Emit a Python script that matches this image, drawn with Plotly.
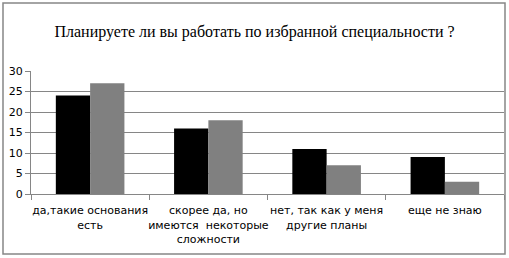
import plotly.graph_objects as go

categories = ["да,такие основания<br>есть", "скорее да, но<br>имеются  некоторые<br>сложности",
              "нет, так как у меня<br>другие планы", "еще не знаю"]
series1 = [24, 16, 11, 9]
series2 = [27, 18, 7, 3]
yticks = [0, 5, 10, 15, 20, 25, 30]

fig = go.Figure()
fig.add_trace(go.Bar(x=categories, y=series1, marker=dict(color="#000000", line=dict(width=0))))
fig.add_trace(go.Bar(x=categories, y=series2, marker=dict(color="#808080", line=dict(width=0))))

L, R, T, B = 31, 5, 71, 64
W, H = 509, 258
pw, ph = W - L - R, H - T - B

fig.update_layout(
    width=W, height=H,
    margin=dict(l=L, r=R, t=T, b=B),
    paper_bgcolor="white", plot_bgcolor="white",
    showlegend=False,
    barmode="group", bargap=0.42, bargroupgap=0,
    title=dict(text="Планируете ли вы работать по избранной специальности ?",
               x=0.5, xanchor="center", y=(H - 31) / H, yanchor="middle",
               font=dict(family="Liberation Serif", size=16, color="black")),
    font=dict(family="DejaVu Sans", size=11, color="black"),
    xaxis=dict(showgrid=False, showline=True, linecolor="#868686", linewidth=1,
               ticks="outside", tickson="boundaries", ticklen=5, tickcolor="#868686",
               tickfont=dict(size=11), tickangle=0, ticklabelstandoff=6),
    yaxis=dict(range=[0, 30], tickvals=yticks, showgrid=True, gridcolor="#868686", gridwidth=1,
               showline=True, linecolor="#868686", linewidth=1, ticks="outside", ticklen=5,
               tickcolor="#868686", zeroline=False, tickfont=dict(size=11)),
    shapes=[dict(type="rect", xref="paper", yref="paper",
                 x0=(3 - L) / pw, x1=(505 - L) / pw,
                 y0=(H - B - 254) / ph, y1=(H - B - 3) / ph,
                 line=dict(color="#868686", width=1.5))],
)

fig.write_html("out.html", config={"displayModeBar": False},
               post_script="document.body.style.margin='0';")
